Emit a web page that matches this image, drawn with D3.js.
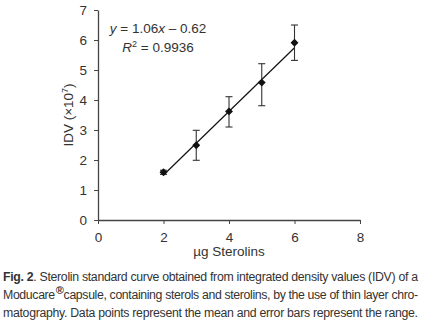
<!DOCTYPE html>
<html>
<head>
<meta charset="utf-8">
<script src="https://cdn.jsdelivr.net/npm/d3@7"></script>
<style>
  body { margin: 0; background: #fff; }
  svg text { font-family: "Liberation Sans", Arial, sans-serif; fill: #333; }
  .axis path, .axis line { stroke: #444; }
  .axis text { font-size: 13.5px; fill: #333; }
</style>
</head>
<body>
<div id="chart"></div>
<script>
'use strict';

// data
const amounts = [2, 3, 4, 5, 6];               // µg sterolins
const idvMean = [1.59, 2.49, 3.62, 4.58, 5.91];  // IDV (x10^7)
const idvLow  = [1.52, 1.99, 3.10, 3.81, 5.32];
const idvHigh = [1.66, 2.99, 4.11, 5.21, 6.50];
const xTicks = [0, 2, 4, 6, 8];
const yTicks = [0, 1, 2, 3, 4, 5, 6, 7];
const fitSlope = 1.06, fitIntercept = -0.62;

const caption = [
  'Sterolin standard curve obtained from integrated density values (IDV) of a',
  'capsule, containing sterols and sterolins, by the use of thin layer chro-',
  'matography. Data points represent the mean and error bars represent the range.'
];

const width = 421, height = 323;
const margin = {left: 98, top: 10, right: 61, bottom: 103};
const plot_w = width - margin.left - margin.right,
      plot_h = height - margin.top - margin.bottom;

const svg = d3.select('#chart').append('svg')
    .attr('width', width)
    .attr('height', height);

const x = d3.scaleLinear().domain([0, 8]).range([0, plot_w]);
const y = d3.scaleLinear().domain([0, 7]).range([plot_h, 0]);

const chart = svg.append('g')
    .attr('transform', `translate(${margin.left},${margin.top})`);

// axes
chart.append('g')
    .attr('class', 'axis')
    .attr('transform', `translate(0,${plot_h})`)
    .call(d3.axisBottom(x).tickValues(xTicks).tickFormat(d3.format('d')).tickSize(4).tickPadding(8).tickSizeOuter(0))
    .call(g => g.select('.domain').attr('stroke-width', 1.3));

chart.append('g')
    .attr('class', 'axis')
    .call(d3.axisLeft(y).tickValues(yTicks).tickFormat(d3.format('d')).tickSize(4).tickPadding(7).tickSizeOuter(0))
    .call(g => g.select('.domain').attr('stroke-width', 1.3));

// regression line
const fit = d => fitSlope * d + fitIntercept;
chart.append('line')
    .attr('x1', x(amounts[0])).attr('y1', y(fit(amounts[0])))
    .attr('x2', x(amounts[amounts.length - 1])).attr('y2', y(fit(amounts[amounts.length - 1])))
    .attr('stroke', '#111').attr('stroke-width', 1.2);

const pts = amounts.map((a, i) => ({x: a, y: idvMean[i], lo: idvLow[i], hi: idvHigh[i]}));

// error bars
const err = chart.selectAll('g.err').data(pts).join('g').attr('class', 'err')
    .attr('stroke', '#333').attr('stroke-width', 1.1);
err.append('line')
    .attr('x1', d => x(d.x)).attr('x2', d => x(d.x))
    .attr('y1', d => y(d.lo)).attr('y2', d => y(d.hi));
err.append('line')
    .attr('x1', d => x(d.x) - 3.5).attr('x2', d => x(d.x) + 3.5)
    .attr('y1', d => y(d.lo)).attr('y2', d => y(d.lo));
err.append('line')
    .attr('x1', d => x(d.x) - 3.5).attr('x2', d => x(d.x) + 3.5)
    .attr('y1', d => y(d.hi)).attr('y2', d => y(d.hi));

// diamond markers
chart.selectAll('path.pt').data(pts).join('path')
    .attr('class', 'pt')
    .attr('d', d3.symbol(d3.symbolDiamond2, 40))
    .attr('transform', d => `translate(${x(d.x)},${y(d.y)})`)
    .attr('fill', '#111');

// equation
const eq = svg.append('text')
    .attr('x', 158).attr('y', 33)
    .attr('text-anchor', 'middle')
    .style('font-size', '13.5px');
eq.append('tspan').style('font-style', 'italic').text('y');
eq.append('tspan').text(' = 1.06');
eq.append('tspan').style('font-style', 'italic').text('x');
eq.append('tspan').text(' \u2013 0.62');

const r2 = svg.append('text')
    .attr('x', 158).attr('y', 52)
    .attr('text-anchor', 'middle')
    .style('font-size', '13.5px');
r2.append('tspan').style('font-style', 'italic').text('R');
r2.append('tspan').attr('dy', -5).style('font-size', '9px').text('2');
r2.append('tspan').attr('dy', 5).text(' = 0.9936');

// axis titles
const yt = svg.append('text')
    .attr('transform', `translate(73,${margin.top + plot_h / 2}) rotate(-90)`)
    .attr('text-anchor', 'middle')
    .style('font-size', '13.5px');
yt.append('tspan').text('IDV (\u00d710');
yt.append('tspan').attr('dy', -5).style('font-size', '9px').text('7');
yt.append('tspan').attr('dy', 5).text(')');

svg.append('text')
    .attr('x', margin.left + x(4)).attr('y', 256)
    .attr('text-anchor', 'middle')
    .style('font-size', '13.5px')
    .text('\u00b5g Sterolins');

// caption
const capSize = '12.3px';
const c1 = svg.append('text').attr('x', 3).attr('y', 281).style('font-size', capSize)
    .attr('textLength', 415).attr('lengthAdjust', 'spacing');
c1.append('tspan').style('font-weight', 'bold').text('Fig. 2');
c1.append('tspan').text('. ' + caption[0]);

const c2 = svg.append('text').attr('x', 3).attr('y', 299).style('font-size', capSize);
c2.append('tspan').text('Moducare');
c2.append('tspan').attr('dx', 1).attr('dy', -5).style('font-weight', 'bold').style('font-size', '11px').text('\u00ae');
c2.append('tspan').attr('dy', 5).text(caption[1]);
c2.attr('textLength', 415).attr('lengthAdjust', 'spacing');

svg.append('text').attr('x', 3).attr('y', 317).style('font-size', capSize)
    .attr('textLength', 415).attr('lengthAdjust', 'spacing')
    .text(caption[2]);
</script>
</body>
</html>
